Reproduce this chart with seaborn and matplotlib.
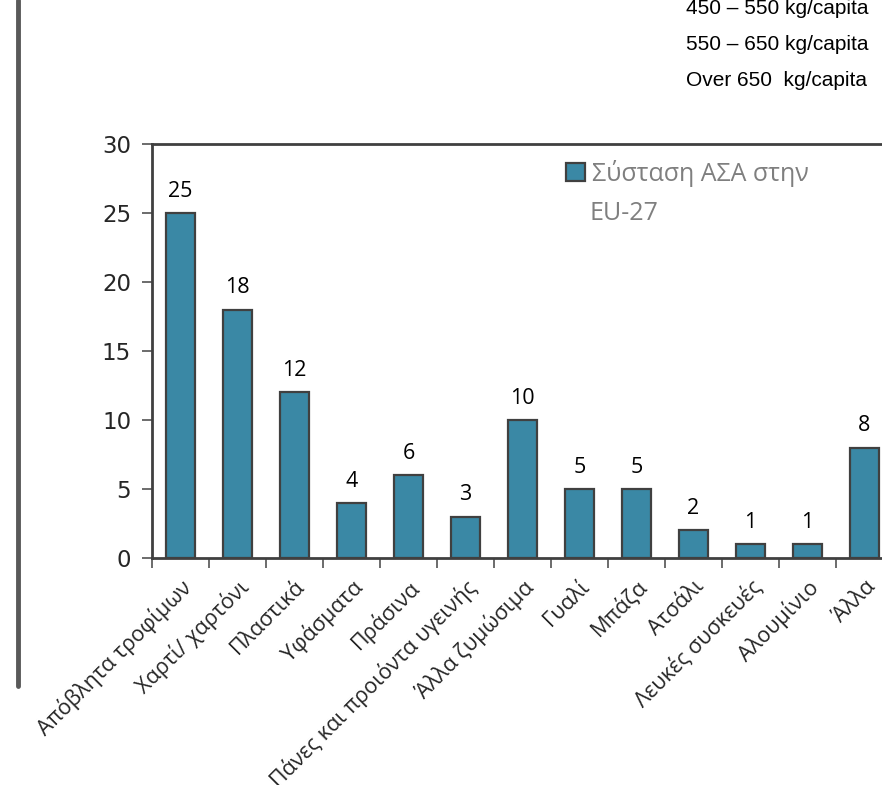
import numpy as np
import matplotlib
matplotlib.use("Agg")
import matplotlib.pyplot as plt
import seaborn as sns

categories = ["Απόβλητα τροφίμων", "Χαρτί/ χαρτόνι", "Πλαστικά", "Υφάσματα",
              "Πράσινα", "Πάνες και προιόντα υγεινής", "Άλλα ζυμώσιμα", "Γυαλί",
              "Μπάζα", "Ατσάλι", "Λευκές συσκευές", "Αλουμίνιο", "Άλλα"]
values = [25, 18, 12, 4, 6, 3, 10, 5, 5, 2, 1, 1, 8]
series_name = "Σύσταση ΑΣΑ στην"
series_name2 = "EU-27"
side_notes = ["450 – 550 kg/capita", "550 – 650 kg/capita", "Over 650  kg/capita"]

sns.set_style("white")
plt.rcParams["font.family"] = ["Open Sans", "DejaVu Sans"]

bar_color = "#3A88A5"
edge = "#404040"

fig = plt.figure(figsize=(8.82, 7.85), dpi=100)
ax = fig.add_axes([152 / 882, 227 / 785, 741 / 882, 414 / 785])

sns.barplot(x=categories, y=values, color=bar_color, edgecolor=edge,
            linewidth=1.6, width=0.5, saturation=1, ax=ax)

# value labels above bars
for i, v in enumerate(values):
    ax.annotate(str(v), (i, v), xytext=(0, 8), textcoords="offset points",
                ha="center", va="bottom", fontsize=15.5, color="black")

ax.set_ylim(0, 30)
ax.set_xlim(-0.5, len(categories) - 0.5)
ax.set_yticks(range(0, 31, 5))
ax.set_yticklabels([str(t) for t in range(0, 31, 5)], fontsize=16.5,
                   fontfamily="DejaVu Sans")
ax.set_xticks(range(len(categories)))
ax.set_xticklabels(categories, rotation=45, ha="right", rotation_mode="anchor",
                   fontsize=15.5)
ax.set_xticks(np.arange(-0.5, len(categories), 1), minor=True)
ax.tick_params(axis="x", which="major", length=0, pad=13)
ax.tick_params(axis="x", which="minor", length=7, width=1.3, color="#606060",
               direction="out", bottom=True)
ax.tick_params(axis="y", length=7, width=1.3, color="#606060", direction="out",
               left=True, pad=8)

for side in ["left", "bottom", "top"]:
    ax.spines[side].set_color(edge)
    ax.spines[side].set_linewidth(2)
ax.spines["right"].set_visible(False)

# legend
leg = ax.legend(handles=[ax.patches[0]], labels=[series_name], loc="upper left",
                bbox_to_anchor=(566 / 882, 1 - 160 / 785),
                bbox_transform=fig.transFigure, frameon=False, fontsize=18,
                handlelength=0.75, handleheight=0.75, handletextpad=0.3,
                borderaxespad=0, borderpad=0)
for t in leg.get_texts():
    t.set_color("#7F7F7F")
fig.text(589 / 882, 1 - 214 / 785, series_name2, fontsize=18, color="#7F7F7F",
         va="center", ha="left")

# side notes at top right
for j, note in enumerate(side_notes):
    fig.text(686 / 882, 1 - (8 + j * 36) / 785, note, fontsize=15,
             family="Liberation Sans", color="black", va="center", ha="left")

# vertical gray bar on the left
fig.add_artist(plt.Line2D([18 / 882, 18 / 882], [1, 1 - 686 / 785],
                          transform=fig.transFigure, color="#595959", linewidth=3.5))

fig.savefig("out.png", dpi=100)
